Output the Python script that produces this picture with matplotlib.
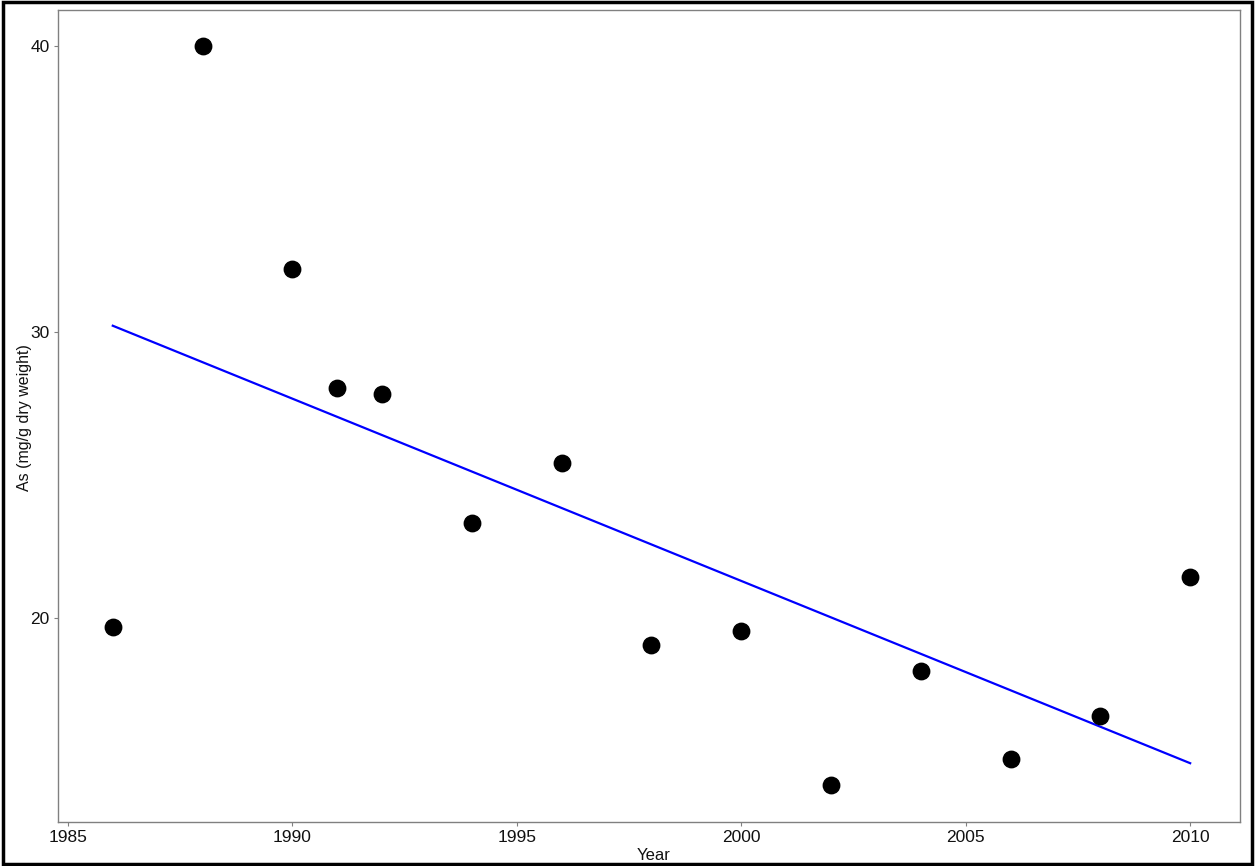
import numpy as np
import matplotlib
matplotlib.use('Agg')
import matplotlib.pyplot as plt
from matplotlib.patches import Rectangle

plt.rcParams['font.family'] = ['Liberation Sans', 'DejaVu Sans']

years = [1986, 1988, 1990, 1991, 1992, 1994, 1996, 1998, 2000, 2002, 2004, 2006, 2008, 2010]
arsenic = [19.69, 40.0, 32.2, 28.04, 27.83, 23.32, 25.42, 19.06, 19.55, 14.16, 18.15, 15.07, 16.57, 21.43]
xticks = [1985, 1990, 1995, 2000, 2005, 2010]
yticks = [20, 30, 40]

W, H = 1255, 866
fig = plt.figure(figsize=(W/100, H/100), dpi=100)
ax = fig.add_axes([58/W, 1 - 822/H, (1240-58)/W, (822-10)/H])

# linear fit
slope, icpt = np.polyfit(years, arsenic, 1)
xs = np.array([min(years), max(years)])
ax.plot(xs, slope*xs + icpt, color='#0000ff', lw=1.6, zorder=2)
ax.scatter(years, arsenic, s=140, color='black', zorder=3)

ax.set_xlim(1984.78, 2011.11)
ax.set_ylim(12.87, 41.26)
ax.set_xticks(xticks)
ax.set_yticks(yticks)
for s in ax.spines.values():
    s.set_color('#808080')
    s.set_linewidth(1.0)
ax.tick_params(colors='#808080', labelcolor='#111111', labelsize=12.5, length=3, width=0.8, pad=3)

# axis titles placed as in the original
fig.text(654/W, 1 - 855/H, 'Year', fontsize=12, ha='center', va='center', color='#111111')
fig.text(25/W, 1 - 418/H, 'As (mg/g dry weight)', fontsize=11.5, rotation=90,
         ha='center', va='center', color='#111111')

# outer frame
fig.patches.append(Rectangle((0.002, 0.002), 0.996, 0.996, transform=fig.transFigure,
                             fill=False, edgecolor='black', linewidth=2.5))

fig.savefig('out.png', dpi=100)
